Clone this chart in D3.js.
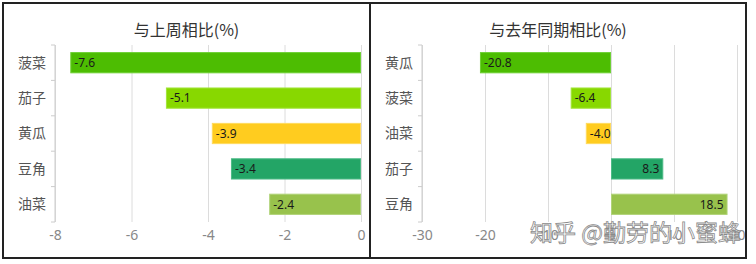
<!DOCTYPE html>
<html>
<head>
<meta charset="utf-8">
<script src="https://cdn.jsdelivr.net/npm/d3@7"></script>
<style>
  body { margin: 0; background: #fff; }
  svg { display: block; font-family: "Noto Sans CJK SC", "Noto Sans", sans-serif; }
</style>
</head>
<body>
<div id="chart"></div>
<script>
// data
const weekCats = ['菠菜', '茄子', '黄瓜', '豆角', '油菜']
const weekVals = [-7.6, -5.1, -3.9, -3.4, -2.4]
const weekTicks = [-8, -6, -4, -2, 0]

const yearCats = ['黄瓜', '菠菜', '油菜', '茄子', '豆角']
const yearVals = [-20.8, -6.4, -4.0, 8.3, 18.5]
const yearTicks = [-30, -20, -10, 0, 10, 20]

const barColors = ['#4dbd02', '#88d800', '#ffcc1f', '#23a566', '#98c24c']
const barStroke = ['#6ed034', '#a2e43a', '#ffda5e', '#4dbb86', '#b0d378']

const width = 756
const height = 264

const svg = d3.select('#chart').append('svg')
  .attr('width', width)
  .attr('height', height)

function drawPanel (opt) {
  const g = svg.append('g')
  const x = d3.scaleLinear().domain(opt.domain).range(opt.xRange)
  const y = d3.scaleBand().domain(opt.cats).range([45, 222])
    .paddingInner(0.4).paddingOuter(0.2)

  // title
  g.append('text')
    .attr('x', (opt.box[0] + opt.box[1]) / 2)
    .attr('y', 36)
    .attr('text-anchor', 'middle')
    .attr('font-size', 16)
    .attr('fill', '#333')
    .text(opt.title)

  // grid + bottom labels
  const xAxis = g.append('g')
    .attr('transform', 'translate(0,222)')
    .call(d3.axisBottom(x).tickValues(opt.ticks).tickFormat(d => String(d))
      .tickSize(-(222 - 45)).tickPadding(8))
  xAxis.select('.domain').remove()
  xAxis.selectAll('.tick line').attr('stroke', '#dcdcdc')
  xAxis.selectAll('.tick text').attr('fill', '#888').attr('font-size', 14)
    .attr('font-family', 'Noto Sans, sans-serif')

  // left axis with ticks at band boundaries
  const x0 = opt.xRange[0]
  g.append('line')
    .attr('x1', x0).attr('x2', x0).attr('y1', 45).attr('y2', 222)
    .attr('stroke', '#ccc')
  const half = (y.step() - y.bandwidth()) / 2
  g.selectAll('.ytick').data(opt.cats).enter().append('line')
    .attr('class', 'ytick')
    .attr('x1', x0 - 4).attr('x2', x0)
    .attr('y1', d => y(d) - half).attr('y2', d => y(d) - half)
    .attr('stroke', '#ccc')
  g.append('line')
    .attr('x1', x0 - 4).attr('x2', x0).attr('y1', 222).attr('y2', 222)
    .attr('stroke', '#ccc')

  g.selectAll('.ylab').data(opt.cats).enter().append('text')
    .attr('class', 'ylab')
    .attr('x', x0 - 9)
    .attr('y', d => y(d) + y.bandwidth() / 2)
    .attr('dy', '0.35em')
    .attr('text-anchor', 'end')
    .attr('font-size', 14)
    .attr('fill', '#555')
    .text(d => d)

  const data = opt.cats.map((c, i) => ({cat: c, val: opt.vals[i], i}))
  g.selectAll('.bar').data(data).enter().append('rect')
    .attr('class', 'bar')
    .attr('x', d => x(Math.min(0, d.val)) + 0.5)
    .attr('y', d => y(d.cat) + 0.5)
    .attr('width', d => Math.abs(x(d.val) - x(0)) - 1)
    .attr('height', y.bandwidth() - 1)
    .attr('fill', d => barColors[d.i])
    .attr('stroke', d => barStroke[d.i])

  g.selectAll('.vlab').data(data).enter().append('text')
    .attr('class', 'vlab')
    .attr('x', d => d.val < 0 ? x(d.val) + 4 : x(d.val) - 4)
    .attr('y', d => y(d.cat) + y.bandwidth() / 2)
    .attr('dy', '0.35em')
    .attr('text-anchor', d => d.val < 0 ? 'start' : 'end')
    .attr('font-size', 12)
    .attr('font-family', 'Noto Sans, sans-serif')
    .attr('fill', '#1a1a1a')
    .text(d => d.val.toFixed(1))
}

drawPanel({title: '与上周相比(%)', cats: weekCats, vals: weekVals, ticks: weekTicks,
  domain: [-8, 0], xRange: [55, 361], box: [3, 370]})
drawPanel({title: '与去年同期相比(%)', cats: yearCats, vals: yearVals, ticks: yearTicks,
  domain: [-30, 20], xRange: [422, 737], box: [370, 746]})

// panel frames
svg.append('rect').attr('x', 3).attr('y', 3).attr('width', 367).attr('height', 255)
  .attr('fill', 'none').attr('stroke', '#222').attr('stroke-width', 2)
svg.append('rect').attr('x', 370).attr('y', 3).attr('width', 376).attr('height', 255)
  .attr('fill', 'none').attr('stroke', '#222').attr('stroke-width', 2)

// watermark
svg.append('text')
  .attr('x', 530).attr('y', 241)
  .attr('font-size', 23)
  .attr('fill', 'rgba(255,255,255,0.85)')
  .attr('stroke', '#8a8a8a')
  .attr('stroke-width', 0.8)
  .text('知乎 @勤劳的小蜜蜂')
</script>
</body>
</html>
